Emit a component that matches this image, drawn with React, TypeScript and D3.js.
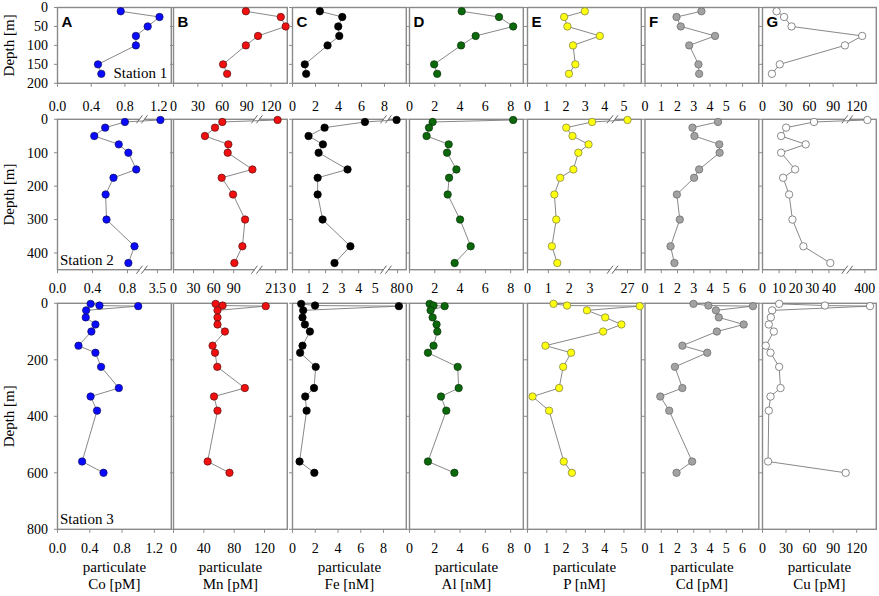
import * as d3 from 'd3';

const letters = ['A', 'B', 'C', 'D', 'E', 'F', 'G'];
const elements = ['Co', 'Mn', 'Fe', 'Al', 'P', 'Cd', 'Cu'];
const units = ['pM', 'pM', 'nM', 'nM', 'nM', 'pM', 'pM'];
const fills = ['#0a0aff', '#f01010', '#000000', '#0b680b', '#ffff10', '#a2a2a2', '#ffffff'];
const strokes = ['#10105a', '#5a1010', '#000000', '#0a300a', '#7a7a40', '#666666', '#5a5a5a'];

// Station 1
const depth1 = [10, 25, 50, 75, 100, 150, 175];
const co1 = [0.75, 1.21, 1.07, 0.93, 0.93, 0.48, 0.52];
const mn1 = [89, 132, 138, 104, 89, 61, 66];
const fe1 = [2.38, 4.33, 3.98, 4.07, 3.05, 1.07, 1.19];
const al1 = [4.13, 7.08, 8.2, 5.23, 4.08, 1.95, 2.19];
const p1 = [2.97, 1.9, 2.07, 3.75, 2.36, 2.48, 2.15];
const cd1 = [3.47, 1.94, 2.2, 4.31, 2.72, 3.29, 3.33];
const cu1 = [18, 27.5, 37, 127, 105, 22, 12];

// Station 2
const depth2 = [2, 8, 25, 50, 75, 100, 150, 175, 225, 300, 380, 430];
const co2 = [3.55, 0.77, 0.545, 0.42, 0.7, 0.81, 0.9, 0.64, 0.55, 0.56, 0.88, 0.81];
const mn2 = [215, 73, 62, 47, 82, 81, 118, 72, 89, 107, 103, 91];
const fe2 = [79, 4.38, 1.94, 0.97, 1.84, 1.58, 3.33, 1.52, 1.52, 1.82, 3.5, 2.54];
const al2 = [8.2, 1.83, 1.54, 1.35, 3.1, 2.97, 3.71, 3.13, 3.02, 4.0, 4.84, 3.57];
const p2 = [27, 3.1, 1.86, 2.16, 2.93, 2.44, 2.2, 1.57, 1.29, 1.38, 1.17, 1.43];
const cd2 = [null, 4.49, 2.92, 3.04, 4.57, 4.59, 3.33, 3.02, 1.96, 2.14, 1.57, 1.81];
const cu2 = [405, 31, 14.2, 11.2, 26, 11.2, 19.6, 12.4, 16, 18, 24.6, 40.8];

// Station 3
const depth3 = [2, 8, 10, 25, 50, 75, 100, 150, 175, 225, 300, 330, 380, 560, 600];
const co3 = [0.41, 0.52, 1.0, 0.355, 0.35, 0.47, 0.42, 0.26, 0.47, 0.54, 0.76, 0.41, 0.49, 0.305, 0.57];
const mn3 = [55.5, 64.7, 121.6, 58, 58, 58, 67.8, 51.5, 54.7, 57.7, 94, 53.4, 58, 45, 73.8];
const fe3 = [0.76, 1.98, 9.35, 0.94, 0.88, 1.09, 1.53, 0.88, 0.67, 2.04, 1.89, 1.12, 1.24, 0.62, 1.92];
const al3 = [1.59, 1.9, 2.78, 1.67, 1.83, 2.14, 2.2, 1.9, 1.46, 3.81, 3.89, 2.49, 2.91, 1.46, 3.55];
const p3 = [1.35, 2.05, 5.82, 3.08, 4.03, 4.87, 3.92, 0.93, 2.26, 1.85, 1.64, 0.26, 1.12, 1.88, 2.3];
const cd3 = [2.98, 3.9, 6.64, 4.36, 4.54, 6.07, 4.42, 2.3, 3.83, 1.84, 2.3, 0.94, 1.49, 2.9, 1.94];
const cu3 = [21.2, 79.5, 137, 12.3, 10.6, 8, 14.4, 4.2, 10.2, 21.2, 23, 10.2, 8, 7.1, 106];

// x axes: stops/frac give a piecewise scale, 4 stops = broken axis
type Axis = { stops: number[]; frac: number[]; ticks: number[] };
const lin = (max: number, ticks: number[]): Axis => ({ stops: [0, max], frac: [0, 1], ticks });
const brk = (lo: number, hi: number, max: number, f: number, ticks: number[]): Axis => ({
  stops: [0, lo, hi, max],
  frac: [0, f, f, 1],
  ticks,
});

const axes1: Axis[] = [
  lin(1.35, [0, 0.4, 0.8, 1.2]),
  lin(140, [0, 30, 60, 90, 120]),
  lin(9.9, [0, 2, 4, 6, 8]),
  lin(9, [0, 2, 4, 6, 8]),
  lin(5.9, [0, 1, 2, 3, 4, 5]),
  lin(7, [0, 1, 2, 3, 4, 5, 6]),
  lin(145, [0, 30, 60, 90, 120]),
];
const axes2: Axis[] = [
  brk(0.965, 3.245, 3.73, 0.742, [0, 0.4, 0.8, 3.5]),
  brk(124.7, 193.7, 225, 0.733, [0, 30, 60, 90, 213]),
  brk(5.65, 68.4, 88.7, 0.821, [0, 1, 2, 3, 4, 5, 80]),
  lin(9, [0, 2, 4, 6, 8]),
  brk(4.08, 22, 31.6, 0.747, [0, 1, 2, 3, 27]),
  lin(7, [0, 1, 2, 3, 4, 5, 6]),
  brk(51, 364.6, 423, 0.745, [0, 10, 20, 30, 40, 400]),
];
const axes3: Axis[] = [
  lin(1.41, [0, 0.4, 0.8, 1.2]),
  lin(150, [0, 40, 80, 120]),
  lin(10, [0, 2, 4, 6, 8]),
  lin(9, [0, 2, 4, 6, 8]),
  lin(5.9, [0, 1, 2, 3, 4, 5]),
  lin(7, [0, 1, 2, 3, 4, 5, 6]),
  lin(145, [0, 30, 60, 90, 120]),
];

const rows = [
  { station: 'Station 1', depths: depth1, series: [co1, mn1, fe1, al1, p1, cd1, cu1], axes: axes1, yMax: 200, yTicks: [0, 50, 100, 150, 200], top: 7.5, bottom: 83.3, labelGap: 28 },
  { station: 'Station 2', depths: depth2, series: [co2, mn2, fe2, al2, p2, cd2, cu2], axes: axes2, yMax: 450, yTicks: [0, 100, 200, 300, 400], top: 119.3, bottom: 269.7, labelGap: 23.5 },
  { station: 'Station 3', depths: depth3, series: [co3, mn3, fe3, al3, p3, cd3, cu3], axes: axes3, yMax: 800, yTicks: [0, 200, 400, 600, 800], top: 303.3, bottom: 529.3, labelGap: 24 },
];

// panel frame left edges (layout)
const colLeft = [57.5, 173.5, 292.5, 409.5, 527.5, 645, 762.5];
const bw = 113.8;

const serif = 'Liberation Serif, DejaVu Serif, serif';
const sans = 'Liberation Sans, Arial, sans-serif';
const boxColor = '#8a8a8a';

export default function App() {
  const width = 879;
  const height = 596;

  return (
    <svg
      width={width}
      height={height}
      fontFamily={serif}
      style={{ position: 'absolute', left: 0, top: 0, background: '#fff' }}
    >
      {rows.map((row, ri) => {
        const y = d3.scaleLinear().domain([0, row.yMax]).range([row.top, row.bottom]);
        const cy = (row.top + row.bottom) / 2;
        return (
          <g key={ri}>
            <text transform={`translate(14,${cy}) rotate(-90)`} textAnchor="middle" fontSize={15}>
              Depth [m]
            </text>
            {row.yTicks.map((t) => (
              <text key={t} x={48} y={y(t)} dy="0.35em" textAnchor="end" fontSize={14}>
                {t}
              </text>
            ))}
            {letters.map((L, ci) => {
              const x0 = colLeft[ci];
              const ax = row.axes[ci];
              const x = d3
                .scaleLinear()
                .domain(ax.stops)
                .range(ax.frac.map((f) => x0 + f * bw));
              const vals = row.series[ci];
              const pts = row.depths.map((d, i) => [vals[i], d] as [number | null, number]);
              const line = d3
                .line<[number | null, number]>()
                .defined((p) => p[0] != null)
                .x((p) => x(p[0] as number))
                .y((p) => y(p[1]));
              const xb = ax.stops.length === 4 ? x(ax.stops[1]) : null;
              return (
                <g key={L}>
                  <rect x={x0} y={row.top} width={bw} height={row.bottom - row.top} fill="none" stroke={boxColor} strokeWidth={1.4} />
                  {row.yTicks.map((t) => (
                    <line key={t} x1={x0 - 3.5} x2={x0} y1={y(t)} y2={y(t)} stroke={boxColor} strokeWidth={1} />
                  ))}
                  {ax.ticks.map((t) => (
                    <g key={t}>
                      <line x1={x(t)} x2={x(t)} y1={row.bottom} y2={row.bottom + 3.5} stroke={boxColor} strokeWidth={1} />
                      <text x={x(t)} y={row.bottom + row.labelGap} textAnchor="middle" fontSize={14}>
                        {ci === 0 ? t.toFixed(1) : t}
                      </text>
                    </g>
                  ))}
                  {xb != null &&
                    [row.top, row.bottom].map((e) => (
                      <g key={e}>
                        <rect x={xb - 2.5} y={e - 1.5} width={5} height={3} fill="#fff" />
                        {[-2.5, 2.5].map((dx) => (
                          <line key={dx} x1={xb + dx - 3} y1={e + 4} x2={xb + dx + 3} y2={e - 4} stroke="#555" strokeWidth={0.9} />
                        ))}
                      </g>
                    ))}
                  <path d={line(pts) ?? ''} fill="none" stroke="#7a7a7a" strokeWidth={0.9} />
                  {pts
                    .filter((p) => p[0] != null)
                    .map((p, i) => (
                      <circle key={i} cx={x(p[0] as number)} cy={y(p[1])} r={3.7} fill={fills[ci]} stroke={strokes[ci]} strokeWidth={0.7} />
                    ))}
                  {ri === 0 && (
                    <text x={x0 + 4} y={row.top + 19} fontWeight="bold" fontSize={15} fontFamily={sans}>
                      {L}
                    </text>
                  )}
                  {ri === 2 && (
                    <g>
                      <text x={x0 + bw / 2} y={572} textAnchor="middle" fontSize={15}>
                        particulate
                      </text>
                      <text x={x0 + bw / 2} y={589} textAnchor="middle" fontSize={15}>
                        {elements[ci]} [{units[ci]}]
                      </text>
                    </g>
                  )}
                </g>
              );
            })}
            {ri === 0 ? (
              <text x={colLeft[0] + bw - 4} y={row.bottom - 5} textAnchor="end" fontSize={15}>
                {row.station}
              </text>
            ) : (
              <text x={colLeft[0] + 2.5} y={row.bottom - 5} fontSize={15}>
                {row.station}
              </text>
            )}
          </g>
        );
      })}
    </svg>
  );
}
